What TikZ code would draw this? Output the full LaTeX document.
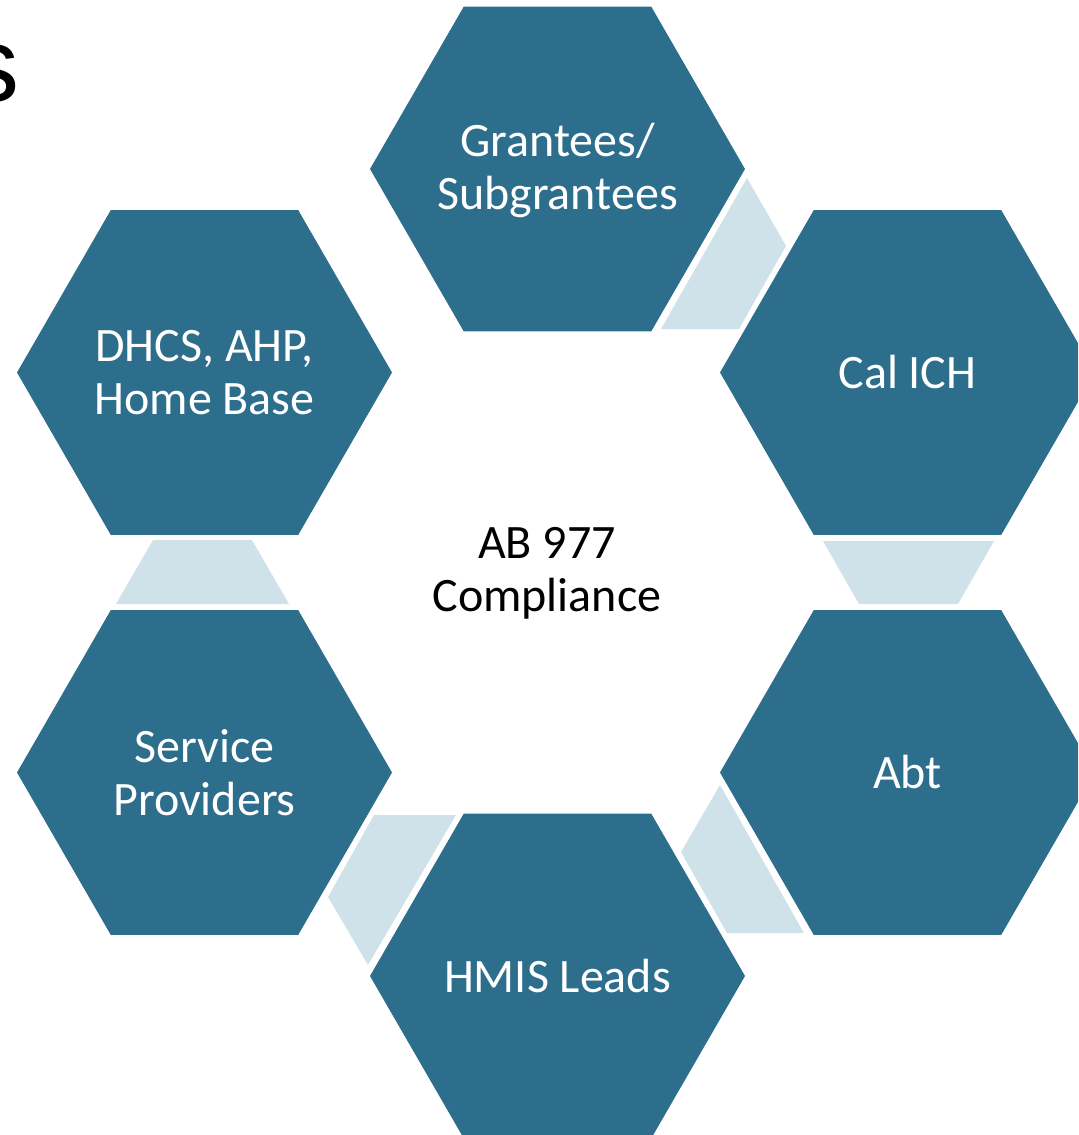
\documentclass[tikz,border=0pt]{standalone}
\usepackage{fontspec}
\setmainfont{Carlito}
\newfontfamily\titlefont{Liberation Sans}
\usetikzlibrary{shapes.geometric}

\definecolor{hexblue}{HTML}{2E6E8D}
\definecolor{linkblue}{HTML}{CFE2E9}

\begin{document}
\begin{tikzpicture}[x=0.5pt, y=-0.5pt,
    hexa/.style={regular polygon, regular polygon sides=6, minimum size=187.5pt,
        inner sep=0pt, fill=hexblue},
    hextext/.style={text=white, align=center, inner sep=0pt,
        font=\fontsize{24}{26.5}\selectfont},
    link/.style={fill=linkblue}]
        % Define canvas
        \useasboundingbox (0,0) rectangle (1078,1135);
        \clip (0,0) rectangle (1078,1135);

        % Title fragment
        \node[anchor=base east, inner sep=0pt, font=\titlefont\fontsize{53}{60}\selectfont] (title) at (20,101) {s};

        % Draw links between hexagons
        \fill[link] (747,178) -- (786,246) -- (739,329) -- (661,329) -- cycle;
        \fill[link] (823,541) -- (994,541) -- (958,604) -- (859,604) -- cycle;
        \fill[link] (720,785) -- (804,933) -- (727,933) -- (681,852) -- cycle;
        \fill[link] (374,815) -- (456,815) -- (368,965) -- (328,897) -- cycle;
        \fill[link] (153,540) -- (252,540) -- (289,604) -- (116,604) -- cycle;

        % Draw hexagons
        \node[hexa] (grantees) at (557.5,169) {};
        \node[hexa] (calich) at (907.5,372.5) {};
        \node[hexa] (abt) at (907.5,772.5) {};
        \node[hexa] (hmis) at (557.5,976) {};
        \node[hexa] (providers) at (204.5,772.5) {};
        \node[hexa] (dhcs) at (204.5,372.5) {};

        % Label hexagons
        \node[hextext] (granteestext) at (557.5,170) {Grantees/\\Subgrantees};
        \node[hextext] (calichtext) at (calich) {Cal ICH};
        \node[hextext] (abttext) at (abt) {Abt};
        \node[hextext] (hmistext) at (hmis) {HMIS Leads};
        \node[hextext] (providerstext) at (providers) {Service\\Providers};
        \node[hextext] (dhcstext) at (dhcs) {DHCS, AHP,\\Home Base};

        % Centre label
        \node[hextext, text=black] (compliance) at (547,573) {AB 977\\Compliance};
\end{tikzpicture}
\end{document}
